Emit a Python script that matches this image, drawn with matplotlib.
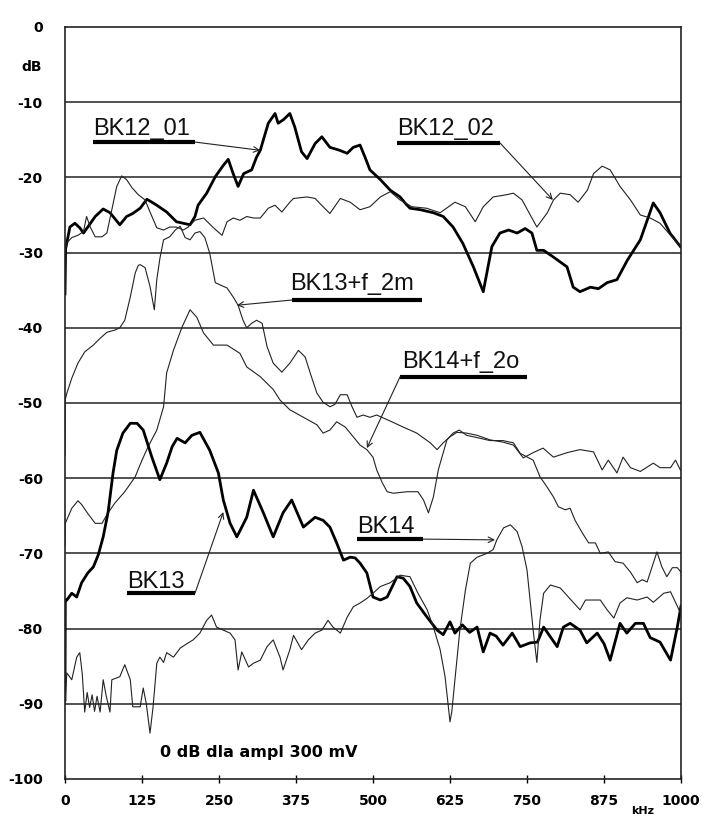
import matplotlib
matplotlib.use("Agg")
import matplotlib.pyplot as plt

# ---------------- data (kHz, dB) ----------------
bk12_01_x = [0, 1, 8, 16, 24, 30, 37, 49, 62, 73, 89, 100, 110, 122, 133, 149, 165, 181, 192, 203, 211, 216, 230, 244, 257, 265, 273, 281, 290, 303, 311, 317, 330, 341, 346, 355, 365, 373, 384, 393, 406, 417, 430, 446, 458, 468, 479, 487, 495, 512, 528, 544, 552, 560, 577, 598, 614, 630, 646, 663, 679, 693, 706, 720, 734, 747, 758, 766, 777, 793, 815, 825, 836, 853, 866, 880, 896, 913, 934, 955, 966, 982, 999]
bk12_01_y = [-35.5, -29.5, -26.6, -26.1, -26.7, -27.4, -26.6, -25.2, -24.2, -24.7, -26.3, -25.2, -24.8, -24.1, -22.9, -23.7, -24.6, -25.9, -26.1, -26.3, -25.2, -23.7, -22.1, -19.9, -18.4, -17.6, -19.5, -21.2, -19.5, -19.0, -17.3, -16.4, -12.8, -11.5, -12.8, -12.3, -11.5, -13.3, -16.6, -17.5, -15.5, -14.6, -16.0, -16.4, -16.8, -16.0, -15.7, -17.3, -19.0, -20.3, -21.7, -22.6, -23.4, -24.1, -24.3, -24.7, -25.2, -26.6, -28.8, -31.9, -35.2, -29.2, -27.4, -27.0, -27.4, -26.8, -27.4, -29.7, -29.7, -30.6, -31.9, -34.6, -35.2, -34.6, -34.8, -34.0, -33.6, -31.0, -28.3, -23.4, -24.7, -27.4, -29.2]

bk12_02_x = [0, 3, 11, 21, 30, 35, 41, 49, 60, 68, 76, 84, 92, 100, 109, 119, 130, 138, 149, 160, 170, 181, 192, 200, 211, 225, 241, 255, 263, 273, 284, 295, 306, 317, 330, 341, 352, 365, 371, 393, 406, 419, 430, 447, 463, 479, 495, 512, 528, 544, 563, 587, 609, 633, 650, 666, 679, 695, 717, 728, 742, 766, 783, 793, 804, 820, 833, 848, 858, 872, 885, 901, 918, 934, 950, 966, 983, 999]
bk12_02_y = [-30.0, -28.7, -28.0, -27.7, -27.2, -25.2, -26.6, -27.9, -27.9, -27.4, -24.3, -21.2, -19.8, -20.3, -21.4, -22.3, -23.0, -24.6, -26.7, -27.0, -26.6, -26.6, -27.0, -26.6, -25.7, -25.4, -26.7, -27.7, -25.9, -25.4, -25.7, -25.2, -25.4, -25.4, -24.1, -23.7, -24.6, -23.3, -22.8, -22.6, -22.8, -23.9, -24.8, -22.8, -23.3, -24.3, -23.9, -22.6, -21.9, -23.0, -23.9, -24.1, -24.7, -23.3, -23.9, -25.9, -23.9, -22.6, -22.3, -22.1, -23.0, -26.6, -24.7, -23.0, -22.1, -22.3, -23.3, -21.7, -19.5, -18.5, -19.0, -21.2, -23.0, -25.0, -25.4, -26.1, -27.7, -29.2]

bk13_f2m_x = [0, 0.5, 3, 11, 21, 32, 46, 57, 68, 81, 89, 97, 106, 114, 119, 122, 130, 138, 145, 149, 154, 160, 170, 179, 187, 195, 203, 211, 219, 227, 235, 244, 252, 263, 273, 281, 289, 295, 303, 311, 320, 328, 338, 352, 365, 379, 390, 398, 409, 419, 430, 438, 447, 458, 466, 474, 484, 495, 506, 528, 549, 571, 593, 604, 614, 625, 636, 652, 669, 690, 711, 728, 744, 760, 776, 793, 815, 836, 858, 872, 882, 896, 906, 918, 934, 955, 966, 983, 991, 999]
bk13_f2m_y = [-57.0, -49.5, -48.7, -46.7, -44.7, -43.2, -42.3, -41.4, -40.6, -40.3, -40.0, -39.0, -35.9, -32.7, -31.7, -31.6, -32.0, -34.5, -37.6, -33.6, -30.8, -28.3, -27.9, -27.0, -26.5, -28.0, -28.3, -27.4, -27.2, -28.0, -30.1, -34.0, -34.3, -34.7, -35.9, -37.0, -39.0, -40.0, -39.4, -39.0, -39.4, -42.5, -44.7, -45.9, -44.7, -43.0, -43.9, -46.0, -48.7, -49.9, -50.5, -50.2, -48.9, -48.9, -50.5, -51.9, -51.6, -51.9, -51.6, -52.4, -53.2, -54.0, -55.3, -56.2, -55.3, -54.5, -53.9, -54.0, -54.3, -54.9, -55.2, -55.6, -57.3, -56.6, -56.0, -57.2, -56.6, -56.2, -56.5, -58.9, -57.6, -59.3, -57.2, -58.6, -59.1, -58.0, -58.6, -58.6, -57.6, -58.9]

bk14_f2o_x = [0, 0.5, 11, 21, 27, 37, 49, 60, 70, 81, 97, 114, 125, 135, 149, 160, 165, 176, 190, 203, 214, 225, 241, 263, 284, 295, 317, 338, 349, 365, 387, 409, 419, 430, 441, 455, 468, 479, 490, 500, 506, 515, 523, 533, 555, 573, 582, 590, 598, 606, 620, 630, 640, 652, 669, 690, 711, 728, 739, 760, 771, 782, 793, 801, 812, 820, 828, 840, 850, 861, 869, 882, 893, 906, 918, 929, 937, 945, 953, 961, 969, 977, 986, 994, 1000]
bk14_f2o_y = [-69.0, -66.0, -64.0, -63.0, -63.5, -64.7, -66.0, -66.0, -64.6, -63.3, -61.8, -59.8, -57.6, -55.8, -53.6, -50.5, -46.0, -43.0, -39.9, -37.6, -38.6, -40.7, -42.3, -42.3, -43.4, -45.2, -46.5, -48.2, -49.6, -50.9, -51.9, -52.9, -54.0, -53.6, -52.5, -53.2, -54.5, -55.6, -56.2, -57.2, -58.9, -60.6, -61.8, -62.0, -61.8, -61.8, -62.9, -64.6, -62.5, -58.9, -54.9, -54.0, -53.6, -54.3, -54.6, -55.0, -55.0, -55.3, -56.7, -57.6, -59.8, -61.1, -62.5, -63.8, -64.2, -64.0, -65.6, -67.3, -68.6, -68.6, -70.0, -69.8, -71.1, -71.3, -72.5, -73.9, -73.5, -73.8, -71.8, -69.8, -71.8, -73.1, -71.9, -71.9, -72.5]

bk13_x = [0, 0.5, 3, 11, 19, 27, 37, 46, 54, 62, 70, 78, 84, 94, 106, 117, 127, 141, 154, 165, 174, 182, 195, 206, 219, 235, 249, 257, 268, 279, 295, 306, 322, 338, 354, 368, 387, 406, 419, 430, 441, 452, 463, 471, 479, 490, 500, 512, 523, 539, 549, 560, 571, 588, 604, 614, 625, 633, 645, 657, 669, 679, 690, 700, 711, 726, 739, 755, 767, 777, 788, 799, 809, 820, 836, 847, 864, 875, 885, 901, 912, 926, 939, 950, 966, 983, 994, 1000]
bk13_y = [-89.5, -76.2, -76.2, -75.3, -75.8, -73.9, -72.6, -71.8, -70.2, -67.8, -64.5, -59.3, -56.3, -54.0, -52.7, -52.7, -53.6, -57.2, -60.2, -58.0, -55.8, -54.7, -55.3, -54.3, -53.9, -56.3, -59.3, -62.9, -66.0, -67.8, -65.2, -61.6, -64.6, -67.8, -64.6, -62.9, -66.5, -65.2, -65.6, -66.5, -68.6, -70.9, -70.5, -70.6, -71.3, -72.6, -75.8, -76.2, -75.8, -73.1, -73.3, -74.4, -76.6, -78.5, -80.2, -80.8, -79.1, -80.6, -79.5, -80.5, -79.8, -83.1, -80.6, -81.0, -82.2, -80.6, -82.4, -81.9, -81.8, -79.8, -81.1, -82.4, -79.8, -79.3, -80.2, -81.9, -80.6, -82.0, -84.2, -79.3, -80.6, -79.3, -79.3, -81.2, -81.8, -84.2, -79.8, -77.0]

bk14_x = [0, 3, 11, 19, 24, 28, 32, 36, 40, 44, 48, 52, 57, 62, 67, 73, 76, 89, 97, 106, 110, 122, 127, 132, 138, 143, 149, 154, 160, 165, 176, 187, 198, 208, 219, 230, 238, 246, 257, 268, 276, 281, 287, 298, 306, 317, 328, 338, 349, 354, 365, 371, 384, 395, 406, 417, 427, 435, 447, 458, 468, 479, 490, 500, 512, 528, 544, 560, 573, 588, 598, 609, 617, 625, 628, 633, 641, 650, 658, 669, 685, 695, 701, 712, 723, 734, 742, 750, 755, 760, 766, 771, 777, 788, 804, 826, 836, 845, 869, 880, 891, 901, 912, 929, 945, 955, 972, 983, 991, 999]
bk14_y = [-90.0, -85.9, -86.8, -83.8, -83.2, -86.0, -91.1, -88.5, -90.5, -88.8, -91.0, -89.0, -91.1, -86.8, -89.0, -91.1, -86.8, -86.4, -84.8, -86.8, -90.4, -90.4, -87.9, -90.0, -93.9, -90.4, -84.6, -83.8, -84.5, -83.2, -83.8, -82.6, -82.0, -81.5, -80.6, -78.9, -78.2, -79.8, -80.2, -80.6, -81.5, -85.5, -83.1, -85.1, -84.6, -84.2, -82.4, -81.5, -83.8, -85.5, -82.8, -80.9, -82.8, -81.5, -80.6, -80.2, -78.9, -79.8, -80.6, -78.5, -77.1, -76.6, -76.0, -75.3, -74.4, -73.9, -72.9, -73.1, -75.3, -77.5, -79.8, -82.8, -86.4, -92.4, -91.0, -86.8, -80.2, -74.9, -71.3, -70.5, -70.0, -69.5, -68.2, -66.6, -66.2, -67.1, -69.1, -72.2, -76.2, -80.2, -84.5, -78.9, -75.3, -74.2, -74.6, -76.6, -77.5, -76.2, -76.2, -77.5, -78.6, -76.6, -75.9, -76.2, -75.8, -76.5, -75.3, -75.1, -76.5, -77.9]

x_ticks = [0, 125, 250, 375, 500, 625, 750, 875, 1000]
y_ticks = [0, -10, -20, -30, -40, -50, -60, -70, -80, -90, -100]

# ---------------- figure ----------------
W, H = 704, 818
fig = plt.figure(figsize=(W / 100, H / 100), dpi=100)
fig.patch.set_facecolor("white")
ax = fig.add_axes([65 / W, 1 - 779 / H, (681 - 65) / W, (779 - 27) / H])
ax.set_xlim(0, 1000)
ax.set_ylim(-100, 0)

TH = 2.0   # thick
TN = 0.8   # thin
ax.plot(bk12_01_x, bk12_01_y, color="black", lw=TH)
ax.plot(bk12_02_x, bk12_02_y, color="#222222", lw=TN)
ax.plot(bk13_f2m_x, bk13_f2m_y, color="#222222", lw=TN)
ax.plot(bk14_f2o_x, bk14_f2o_y, color="#222222", lw=TN)
ax.plot(bk13_x, bk13_y, color="black", lw=TH)
ax.plot(bk14_x, bk14_y, color="#222222", lw=TN)

# grid & frame
for yv in y_ticks[1:-1]:
    ax.axhline(yv, color="#333333", lw=1.2, zorder=0)
for sp in ax.spines.values():
    sp.set_color("#222222")
    sp.set_linewidth(1.2)

tick_font = dict(family="DejaVu Sans", weight="bold", size=10)
ax.set_xticks(x_ticks)
ax.set_xticklabels([str(v) for v in x_ticks], fontdict=tick_font)
ax.set_yticks(y_ticks)
ax.set_yticklabels([str(v) for v in y_ticks], fontdict=tick_font)
ax.tick_params(axis="x", direction="inout", length=6, width=1, pad=8)
ax.tick_params(axis="y", length=0, pad=16)

fig.text(32 / W, 1 - 67 / H, "dB", ha="center", va="center", **tick_font)
fig.text(643 / W, 1 - 816 / H, "kHz", ha="center", va="bottom",
         family="DejaVu Sans", weight="bold", size=8)
ax.text(154, -97.1, "0 dB dla ampl 300 mV", ha="left", va="baseline",
        family="DejaVu Sans", weight="bold", size=11.5)

# ---------------- labels with underline + leader ----------------
labels = [
    # text, text_x, baseline_y, underline_y, ul_x0, ul_x1, leader_from, leader_to
    ("BK12_01", 45.5, -14.4, -15.3, 45.5, 211, (211, -15.3), (317, -16.4)),
    ("BK12_02", 539, -14.4, -15.4, 539, 706, (706, -15.4), (792, -23.0)),
    ("BK13+f_2m", 365, -35.0, -36.3, 369, 580, (369, -36.3), (279, -37.0)),
    ("BK14+f_2o", 547, -45.3, -46.5, 544, 750, (544, -46.5), (490, -56.0)),
    ("BK14", 474, -67.3, -68.1, 474, 581, (581, -68.1), (698, -68.2)),
    ("BK13", 100.7, -74.6, -75.3, 100, 211, (211, -75.3), (257, -64.5)),
]
for txt, tx, ty, uy, u0, u1, p0, p1 in labels:
    ax.text(tx, ty, txt, ha="left", va="baseline", family="Liberation Sans",
            size=17, color="#111111")
    ax.plot([u0, u1], [uy, uy], color="black", lw=3.0, solid_capstyle="butt")
    ax.annotate("", xy=p1, xytext=p0,
                arrowprops=dict(arrowstyle="->", lw=0.8, color="#222222",
                                shrinkA=0, shrinkB=0, mutation_scale=10))

fig.savefig("out.png", dpi=100, facecolor="white")
